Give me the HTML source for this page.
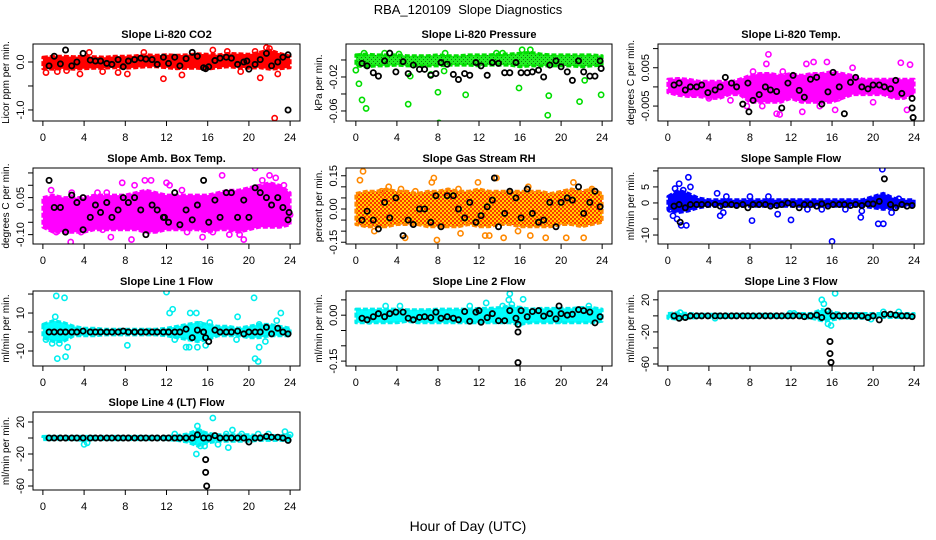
<!DOCTYPE html>
<html><head><meta charset="utf-8">
<style>
html,body{margin:0;padding:0;background:#fff;}
svg{display:block;font-family:"Liberation Sans",Arial,sans-serif;}
</style></head>
<body>
<svg id="chart" width="936" height="540" viewBox="0 0 936 540">
<defs>
<pattern id="pat-rh" width="4" height="4" patternUnits="userSpaceOnUse"><rect width="4" height="4" fill="#ffd000"/><rect x="0" y="0" width="2" height="2" fill="#ff3300"/><rect x="2" y="2" width="2" height="2" fill="#ff3300"/></pattern>
<pattern id="pat-pres" width="4" height="4" patternUnits="userSpaceOnUse"><rect width="4" height="4" fill="#22ee22"/><rect x="1" y="1" width="1" height="1" fill="#117711"/><rect x="3" y="3" width="1" height="1" fill="#117711"/></pattern>
</defs>
<text x="468" y="14" text-anchor="middle" font-size="13">RBA_120109&#160; Slope Diagnostics</text>
<text x="468" y="531" text-anchor="middle" font-size="14">Hour of Day (UTC)</text>
</svg>
<script>
// ---- data ----
const hours = [0,1,2,3,4,5,6,7,8,9,10,11,12,13,14,15,16,17,18,19,20,21,22,23,24];
const xTicks = [0,4,8,12,16,20,24];
const blackHours = [0.6,1.1,1.7,2.2,2.8,3.3,3.9,4.6,5.1,5.6,6.2,6.7,7.3,7.8,8.3,8.9,9.5,10.0,10.6,11.1,11.7,12.2,12.8,13.3,13.9,14.5,15.0,15.6,16.1,16.7,17.2,17.8,18.3,18.9,19.5,20.0,20.6,21.1,21.7,22.2,22.8,23.3,23.8];

const co2Lo = [-0.14,-0.15,-0.14,-0.15,-0.14,-0.13,-0.13,-0.12,-0.13,-0.12,-0.1,-0.1,-0.12,-0.14,-0.13,-0.13,-0.15,-0.12,-0.1,-0.12,-0.13,-0.12,-0.15,-0.14,-0.12];
const co2Hi = [0.1,0.12,0.12,0.11,0.12,0.11,0.1,0.12,0.12,0.13,0.15,0.14,0.15,0.14,0.15,0.17,0.16,0.15,0.18,0.17,0.16,0.2,0.25,0.18,0.12];
const co2OutX = [0.3,1.4,2.3,3.6,4.5,5.8,7.3,8.2,9.8,11.7,13.5,16.5,17.9,19.2,21.1,21.7,22.0,22.5,22.8,20.6];
const co2OutY = [-0.22,-0.2,-0.18,-0.25,0.2,-0.2,-0.22,-0.25,0.2,-0.35,-0.27,0.25,0.22,-0.2,-0.33,0.3,0.28,-1.17,-0.25,0.22];
const co2Black = [-0.08,0.12,-0.04,0.25,-0.08,0.0,0.18,0.04,0.02,0.02,-0.03,-0.05,0.05,-0.1,0.02,0.05,0.08,0.06,0.05,-0.05,0.1,-0.03,0.1,-0.08,0.07,0.2,0.12,-0.12,-0.1,0.03,0.08,0.1,0.08,-0.05,0.0,-0.15,-0.05,0.05,0.18,-0.08,0.0,0.1,0.15];
const co2ExtraX = [23.8,15.8,19.8];
const co2ExtraY = [-1.0,-0.14,0.02];

const presLo = [-0.007,-0.008,-0.007,-0.007,-0.006,-0.007,-0.007,-0.007,-0.007,-0.006,-0.006,-0.006,-0.007,-0.006,-0.006,-0.006,-0.008,-0.007,-0.007,-0.007,-0.007,-0.007,-0.008,-0.007,-0.006];
const presHi = [0.006,0.007,0.006,0.006,0.006,0.005,0.005,0.005,0.006,0.005,0.005,0.006,0.006,0.006,0.007,0.007,0.008,0.009,0.007,0.006,0.006,0.006,0.006,0.006,0.005];
const presOutX = [0.0,0.3,0.6,1.0,5.1,5.3,7.3,8.0,8.1,8.6,10.7,15.9,18.7,18.8,21.8,22.3,23.9,16.2,17.0,0.8,2.8,4.2,8.7,13.7,14.3];
const presOutY = [-0.012,-0.028,-0.047,-0.057,-0.052,-0.019,-0.017,-0.038,-0.074,-0.013,-0.041,-0.033,-0.065,-0.042,-0.049,-0.024,-0.041,0.012,0.012,0.008,0.008,0.007,0.008,0.008,0.008];
const presBlack = [-0.004,-0.007,-0.015,-0.019,-0.001,0.008,-0.014,-0.002,-0.016,-0.006,-0.011,-0.011,-0.018,-0.016,-0.003,-0.005,-0.017,-0.023,-0.016,-0.018,-0.003,-0.007,-0.018,-0.003,-0.004,-0.015,-0.015,-0.003,-0.015,-0.015,-0.014,-0.012,-0.02,-0.006,-0.001,-0.008,-0.014,-0.024,-0.001,-0.014,-0.019,-0.019,-0.001];
const presExtraX = [23.9];
const presExtraY = [-0.01];

const tempLo = [-0.0015,-0.0022,-0.0025,-0.0025,-0.003,-0.003,-0.002,-0.002,-0.004,-0.004,-0.004,-0.004,-0.003,-0.004,-0.004,-0.004,-0.004,-0.003,-0.002,-0.002,-0.002,-0.002,-0.003,-0.003,-0.002];
const tempHi = [0.002,0.0022,0.002,0.0015,0.0015,0.0015,0.0012,0.002,0.003,0.0035,0.0035,0.003,0.0035,0.003,0.0035,0.0035,0.004,0.0035,0.003,0.002,0.002,0.002,0.002,0.002,0.002];
const tempOutX = [7.7,8.3,9.8,9.6,10.6,11.2,12.1,13.1,13.5,14.2,14.8,15.5,16.3,16.6,18.0,20.0,22.7,23.3,23.6,10.9,2.5,4.0,6.1,9.2];
const tempOutY = [-0.005,0.004,0.0085,0.006,-0.007,0.004,-0.002,-0.0065,0.006,0.0065,-0.005,0.0065,-0.006,-0.003,0.005,-0.004,0.0063,-0.006,0.0058,-0.0072,-0.002,-0.003,-0.0035,-0.005];
const tempBlack = [0.0005,0.001,-0.0008,0,0,0.0005,-0.0015,-0.0008,0,0.0025,0.001,0,-0.0045,0.001,-0.0035,-0.002,0,-0.0008,-0.0012,-0.0055,0.001,0.003,-0.0009,-0.0027,0.002,0.0025,-0.0045,-0.0013,0.0038,0,-0.007,0.0012,0.0025,0,-0.0005,0.0005,0.0005,0,-0.0005,0.0017,-0.0017,0.013,-0.003];
const tempExtraX = [23.8,23.9,7.9];
const tempExtraY = [-0.0055,-0.008,-0.0065];

const ambLo = [-0.07,-0.09,-0.09,-0.09,-0.09,-0.08,-0.08,-0.08,-0.08,-0.08,-0.09,-0.09,-0.08,-0.08,-0.08,-0.08,-0.09,-0.08,-0.08,-0.09,-0.08,-0.07,-0.07,-0.07,-0.06];
const ambHi = [0.05,0.06,0.05,0.05,0.05,0.06,0.06,0.06,0.06,0.07,0.08,0.07,0.06,0.06,0.06,0.06,0.06,0.07,0.08,0.08,0.09,0.1,0.11,0.1,0.07];
const ambOutX = [0.3,0.8,1.3,2.7,2.8,3.7,5.3,5.8,6.2,6.6,7.7,8.6,8.9,9.9,10.5,11.0,12.0,13.5,15.5,16.5,17.4,18.1,19.1,19.5,20.6,21.3,22.0,22.6,23.4,24.0,12.3,14.0];
const ambOutY = [0.03,0.08,-0.09,-0.13,0.07,-0.09,0.07,-0.08,0.07,-0.11,0.11,-0.12,0.1,0.12,0.12,-0.08,0.11,0.08,-0.11,-0.09,0.14,-0.1,-0.1,-0.12,0.17,0.12,0.14,0.13,0.1,-0.02,0.1,-0.09];
const ambBlack = [0.12,0.01,0.01,-0.09,0.06,0.03,0.05,-0.03,0.02,-0.01,0.03,-0.03,0,0.05,0.03,0.05,0,-0.1,0.02,0,-0.03,-0.05,0.07,-0.06,0,-0.04,0.02,0.12,-0.05,0.04,-0.03,0.07,0.07,-0.03,0.04,-0.03,0.09,0.07,0.05,0.02,0.05,0.01,-0.04];
const ambExtraX = [3.9,23.9,11.8];
const ambExtraY = [-0.08,-0.01,-0.03];

const rhLo = [-0.07,-0.08,-0.08,-0.08,-0.07,-0.07,-0.07,-0.08,-0.08,-0.08,-0.08,-0.07,-0.08,-0.08,-0.07,-0.07,-0.08,-0.08,-0.08,-0.08,-0.07,-0.07,-0.08,-0.07,-0.06];
const rhHi = [0.07,0.08,0.08,0.09,0.08,0.08,0.07,0.08,0.08,0.09,0.08,0.08,0.09,0.08,0.08,0.08,0.08,0.08,0.08,0.07,0.08,0.09,0.08,0.09,0.07];
const rhOutX = [0.4,0.7,1.8,2.5,3.2,4.4,4.8,5.8,7.4,7.9,10.0,10.2,11.9,12.6,13.0,14.4,15.8,16.8,17.0,18.5,20.5,21.2,22.2,23.0,13.7,7.6];
const rhOutY = [0.13,0.17,-0.1,0.08,0.1,0.09,-0.13,0.08,0.12,-0.14,0.09,-0.11,0.12,-0.12,-0.12,-0.13,-0.1,0.1,-0.12,-0.13,-0.13,0.12,-0.13,0.09,0.14,0.14];
const rhBlack = [-0.05,-0.01,-0.05,-0.09,0.03,-0.04,0.05,-0.12,-0.05,-0.07,0,0.0,-0.06,0.06,-0.08,0.06,0.06,0.0,-0.04,0.03,-0.06,-0.03,0.01,0.04,-0.08,-0.02,0.08,0.05,-0.04,0.09,-0.02,-0.06,-0.05,0.03,-0.08,0.03,0.05,0.04,0.1,-0.02,0.03,0.08,0.01];
const rhExtraX = [13.5];
const rhExtraY = [0.14];

const sampLo = [-2,-3,-2.5,-1.5,-1,-1,-1,-1,-1,-1,-1,-1,-1,-1,-1,-1,-1,-1,-1,-1,-1.5,-2,-1.5,-1,-1];
const sampHi = [2,4,3,1.5,1,1,1,1,1,1,1,1,1,1,1,1,1,1,1,1,2,3,1.5,1,1];
const sampOutX = [0.2,0.5,0.7,0.9,1.1,1.3,1.5,1.8,2.0,2.2,4.8,5.1,5.4,5.7,8.0,8.2,10.7,12.0,13.6,16.0,17.3,18.8,18.9,20.5,21.0,20.9,21.8,22.5,15.0,9.8];
const sampOutY = [-2,-4,4.5,-5,6,-7,4,-7,8,5,3,-4,-3,2,2,-5.5,-3.5,-5.3,-2,-12,-2,-4.5,-2.5,-6.5,-6.5,10.5,-3,1.3,-2,2];
const sampBlack = [-1,-0.5,-1.5,-0.5,-0.5,-0.5,-0.5,-0.5,-1,-0.5,-0.5,-0.8,-0.5,-1.5,-0.5,-0.5,-0.5,-1,-0.8,-0.5,0,-0.5,-1.5,-0.5,-0.5,-1,-0.3,-1,-0.5,-0.5,-0.5,-0.8,-0.5,-0.8,-0.3,-0.3,0.5,7.5,-0.5,-1.5,-0.5,-1,-0.8];
const sampExtraX = [1.2];
const sampExtraY = [-6];

const l1Lo = [-3,-5,-5,-2,-2,-2,-1.5,-1.5,-1.5,-1.5,-1.5,-1.5,-2,-3,-4,-5,-4,-2,-2,-2,-3,-3,-2,-2,-2];
const l1Hi = [4,6,5,3,2,2,1.5,1.5,1.5,1.5,1.5,1.5,2,3,4,5,4,3,3,2,3,4,4,3,2];
const l1OutX = [0.3,0.9,1.2,1.3,1.4,1.6,2.1,2.2,2.4,8.2,12.0,12.3,12.6,12.8,13.9,14.2,14.3,14.9,15.0,15.3,16.2,18.9,18.8,20.5,20.6,20.9,21.0,21.0,21.6,22.7,23.1,15.8];
const l1OutY = [-4,-6,8,19,-14,-6,18,-13,-8,-7,21,10,12,-4,-8,-8,10,10,-8,4,5,8,-4,18,-14,-15.5,-8,4,-5,6,10,-7];
const l1Black = [0,0,0,0,0,0,0.5,0,0,0,0,0,0,0.5,0,0,0,0,0,0,0,0,0,0,1.5,-3,1,0,-5,1,0,0,0,0.5,-1,0,0,0,2.5,-1,2,0,-1];
const l1ExtraX = [15.8];
const l1ExtraY = [-3];

const l2Lo = [-0.025,-0.025,-0.025,-0.025,-0.025,-0.02,-0.025,-0.025,-0.025,-0.025,-0.025,-0.025,-0.025,-0.025,-0.025,-0.025,-0.03,-0.025,-0.025,-0.025,-0.025,-0.025,-0.025,-0.025,-0.02];
const l2Hi = [0.02,0.02,0.02,0.02,0.02,0.018,0.018,0.018,0.02,0.02,0.02,0.02,0.022,0.022,0.025,0.03,0.025,0.02,0.022,0.022,0.022,0.022,0.025,0.025,0.02];
const l2OutX = [2.9,4.3,11.1,12.7,14.3,14.9,15.0,15.2,16.3,16.0,15.9,22.7,19.8,1.3];
const l2OutY = [0.03,0.03,0.03,0.04,0.03,0.05,0.07,0.035,0.052,0.02,-0.03,0.03,-0.018,-0.02];
const l2Black = [-0.01,-0.015,-0.005,0.005,-0.005,0.005,0.01,0.01,-0.01,-0.015,-0.007,-0.005,-0.008,0.01,-0.01,-0.005,-0.01,-0.015,0.012,-0.02,0.01,-0.023,-0.008,0.005,-0.018,-0.018,0.015,-0.01,0.015,-0.005,0.012,0.015,-0.003,0.005,-0.012,0.005,0.0,0.003,0.018,0.015,0.01,-0.025,-0.005];
const l2ExtraX = [15.8,15.8,15.8,12.0,19.8];
const l2ExtraY = [-0.03,-0.055,-0.155,0.015,0.03];

const l3Lo = [-3,-4,-3,-2,-2,-2,-2,-2,-2,-2,-2,-2,-2,-2,-3,-6,-5,-3,-3,-3,-2,-2,-2,-2,-2];
const l3Hi = [3,4,3,2,2,2,2,2,2,2,2,2,3,3,3,8,5,3,3,3,3,3,3,3,3];
const l3OutX = [1.2,11.9,15.0,15.2,15.6,15.9,16.3,21.0,22.5,12.3,19.8,4.6];
const l3OutY = [4,3,20,15,-10,-12,28,5,5,3,-4,-3];
const l3Black = [0,-3,-2,0,0,0,0,0,0,0,0,0,0,0,0,0,0,0,0,0,0,0,0,-1,0,1,-2,6,0,0,0,0,0,0,-2,0,-5,2,2,1,0,0,-1];
const l3ExtraX = [15.8,15.8,15.9];
const l3ExtraY = [-32,-47,-58];

const l4Lo = [-2,-2,-2,-2,-3,-2,-2,-2,-2,-2,-2,-2,-2,-3,-5,-10,-6,-4,-4,-4,-4,-3,-3,-3,-3];
const l4Hi = [2,2,2,2,2,2,2,2,2,2,2,2,2,3,5,10,6,4,4,4,4,3,3,3,3];
const l4OutX = [4.0,4.3,12.8,14.9,15.0,15.2,15.3,15.7,16.5,17.0,17.8,18.0,18.4,19.3,20.9,21.9,23.5,24.0,14.6,16.0];
const l4OutY = [-8,-6,5,-20,15,8,-10,-10,25,-8,5,-12,10,5,5,5,8,4,-5,-2];
const l4Black = [0,0,0,0,0,0,0,0,0,0,0,0,0,0,0,0,0,0,0,0,0,0,0,0,0,0,4,0,0,3,0,0,0,0,0,-5,0,0,2,1,1,0,-3];
const l4ExtraX = [15.8,15.8,15.9];
const l4ExtraY = [-27,-43,-60];

// ---- tick definitions ----
const co2Ticks = [-1.0,-0.5,0.0]; const co2Labels = ["-1.0","","0.0"];
const presTicks = [-0.06,-0.04,-0.02,0.0]; const presLabels = ["-0.06","","-0.02",""];
const tempTicks = [-0.005,0,0.005,0.01]; const tempLabels = ["-0.005","","0.005",""];
const ambTicks = [-0.10,-0.05,0,0.05,0.10,0.15]; const ambLabels = ["-0.10","","","0.05","",""];
const rhTicks = [-0.15,-0.10,-0.05,0,0.05,0.10,0.15]; const rhLabels = ["-0.15","","","0.00","","","0.15"];
const sampTicks = [-10,-5,0,5,10]; const sampLabels = ["-10","","0","5",""];
const l1Ticks = [-10,0,10,20]; const l1Labels = ["-10","","10",""];
const l2Ticks = [-0.15,-0.10,-0.05,0,0.05]; const l2Labels = ["-0.15","","","0.00",""];
const l3Ticks = [-60,-40,-20,0,20]; const l3Labels = ["-60","","-20","","20"];
const l4Ticks = [-60,-40,-20,0,20]; const l4Labels = ["-60","","-20","","20"];

// ---- layout ----
const NS = "http://www.w3.org/2000/svg";
const svg = document.getElementById("chart");
const cols = [[33,300],[346,612],[658,924]];
const rows = [[44,121],[168,244],[291,366],[412,490]];

function mk(tag, attrs, parent){
  const e = document.createElementNS(NS, tag);
  for (const k in attrs) e.setAttribute(k, attrs[k]);
  (parent||svg).appendChild(e);
  return e;
}

const panels = [
 {key:"co2", title:"Slope Li-820 CO2", ylab:"Licor ppm per min.", c:0,r:0, dom:[-1.23,0.375], col:"#ff0000", band:"#ff0000", lo:co2Lo,hi:co2Hi,ox:co2OutX,oy:co2OutY,bk:co2Black,ex:co2ExtraX,ey:co2ExtraY,t:co2Ticks,tl:co2Labels},
 {key:"pressure", title:"Slope Li-820 Pressure", ylab:"kPa per min.", c:1,r:0, dom:[-0.0718,0.0188], col:"#00dd00", band:"url(#pat-pres)", lo:presLo,hi:presHi,ox:presOutX,oy:presOutY,bk:presBlack,ex:presExtraX,ey:presExtraY,t:presTicks,tl:presLabels},
 {key:"li820-temp", title:"Slope Li-820 Temp.", ylab:"degrees C per min.", c:2,r:0, dom:[-0.0089,0.0112], col:"#ff00ff", band:"#ff00ff", lo:tempLo,hi:tempHi,ox:tempOutX,oy:tempOutY,bk:tempBlack,ex:tempExtraX,ey:tempExtraY,t:tempTicks,tl:tempLabels},
 {key:"amb-box-temp", title:"Slope Amb. Box Temp.", ylab:"degrees C per min.", c:0,r:1, dom:[-0.138,0.170], col:"#ff00ff", band:"#ff00ff", lo:ambLo,hi:ambHi,ox:ambOutX,oy:ambOutY,bk:ambBlack,ex:ambExtraX,ey:ambExtraY,t:ambTicks,tl:ambLabels},
 {key:"gas-stream-rh", title:"Slope Gas Stream RH", ylab:"percent per min.", c:1,r:1, dom:[-0.158,0.185], col:"#ff8800", band:"url(#pat-rh)", lo:rhLo,hi:rhHi,ox:rhOutX,oy:rhOutY,bk:rhBlack,ex:rhExtraX,ey:rhExtraY,t:rhTicks,tl:rhLabels},
 {key:"sample-flow", title:"Slope Sample Flow", ylab:"ml/min per min.", c:2,r:1, dom:[-12.8,10.9], col:"#0000ff", band:"#0000ff", lo:sampLo,hi:sampHi,ox:sampOutX,oy:sampOutY,bk:sampBlack,ex:sampExtraX,ey:sampExtraY,t:sampTicks,tl:sampLabels},
 {key:"line1-flow", title:"Slope Line 1 Flow", ylab:"ml/min per min.", c:0,r:2, dom:[-17.9,21.6], col:"#00eeee", band:"#00ffff", lo:l1Lo,hi:l1Hi,ox:l1OutX,oy:l1OutY,bk:l1Black,ex:l1ExtraX,ey:l1ExtraY,t:l1Ticks,tl:l1Labels},
 {key:"line2-flow", title:"Slope Line 2 Flow", ylab:"ml/min per min.", c:1,r:2, dom:[-0.166,0.079], col:"#00eeee", band:"#00ffff", lo:l2Lo,hi:l2Hi,ox:l2OutX,oy:l2OutY,bk:l2Black,ex:l2ExtraX,ey:l2ExtraY,t:l2Ticks,tl:l2Labels},
 {key:"line3-flow", title:"Slope Line 3 Flow", ylab:"ml/min per min.", c:2,r:2, dom:[-62.5,31], col:"#00eeee", band:"#00ffff", lo:l3Lo,hi:l3Hi,ox:l3OutX,oy:l3OutY,bk:l3Black,ex:l3ExtraX,ey:l3ExtraY,t:l3Ticks,tl:l3Labels},
 {key:"line4-flow", title:"Slope Line 4 (LT) Flow", ylab:"ml/min per min.", c:0,r:3, dom:[-65,32.5], col:"#00eeee", band:"#00ffff", lo:l4Lo,hi:l4Hi,ox:l4OutX,oy:l4OutY,bk:l4Black,ex:l4ExtraX,ey:l4ExtraY,t:l4Ticks,tl:l4Labels}
];

panels.forEach(p=>{
  const [L,R] = cols[p.c], [T,B] = rows[p.r];
  const xs = h => L + (h + 0.96) / 25.92 * (R - L);
  const ys = v => B - (v - p.dom[0]) / (p.dom[1] - p.dom[0]) * (B - T);
  const g = mk("g", {});
  
  
  const clipId = "clip-" + p.key;
  const cp = mk("clipPath", {id: clipId}, g);
  mk("rect", {x:L, y:T, width:R-L, height:B-T}, cp);

  const title = mk("text", {x:(L+R)/2, y:T-6, "text-anchor":"middle", "font-size":"11", "font-weight":"bold"}, g);
  title.textContent = p.title;
  
  

  const plot = mk("g", {"clip-path":"url(#"+clipId+")"}, g);
  let d = "";
  hours.forEach((h,i)=>{ d += (i?"L":"M") + xs(h).toFixed(1) + "," + ys(p.hi[i]).toFixed(1); });
  for (let i = hours.length-1; i >= 0; i--) d += "L" + xs(hours[i]).toFixed(1) + "," + ys(p.lo[i]).toFixed(1);
  const band = mk("path", {d: d + "Z", fill: p.band, stroke: p.col, "stroke-width": 3, "stroke-dasharray":"5 2", "stroke-linejoin":"round"}, plot);
  
  
  p.ox.forEach((h,i)=>{
    const c = mk("circle", {cx: xs(h), cy: ys(p.oy[i]), r: 2.6, fill:"none", stroke: p.col, "stroke-width": 1.6}, plot);
    
    
  });
  p.bk.forEach((v,i)=>{
    if (i >= blackHours.length) return;
    const c = mk("circle", {cx: xs(blackHours[i]), cy: ys(v), r: 2.6, fill:"none", stroke:"#000", "stroke-width": 1.8}, plot);
    
    
  });
  p.ex.forEach((h,i)=>{
    const c = mk("circle", {cx: xs(h), cy: ys(p.ey[i]), r: 2.6, fill:"none", stroke:"#000", "stroke-width": 1.8}, plot);
    
    
  });

  const box = mk("rect", {x:L, y:T, width:R-L, height:B-T, fill:"none", stroke:"#000", "stroke-width":1}, g);
  
  

  const xa = mk("g", {}, g);
  
  
  mk("line", {x1: xs(xTicks[0]), x2: xs(xTicks[xTicks.length-1]), y1: B, y2: B, stroke:"#000"}, xa);
  xTicks.forEach(t=>{
    mk("line", {x1: xs(t), x2: xs(t), y1: B, y2: B+5, stroke:"#000"}, xa);
    const tx = mk("text", {x: xs(t), y: B+20, "text-anchor":"middle", "font-size":"11"}, xa);
    tx.textContent = t;
  });
  const ya = mk("g", {}, g);
  
  
  const tin = p.t.filter(v => v >= p.dom[0] && v <= p.dom[1]);
  mk("line", {x1: L, x2: L, y1: ys(tin[0]), y2: ys(tin[tin.length-1]), stroke:"#000"}, ya);
  p.t.forEach((v,i)=>{
    if (v < p.dom[0] || v > p.dom[1]) return;
    mk("line", {x1: L-5, x2: L, y1: ys(v), y2: ys(v), stroke:"#000"}, ya);
    if (p.tl[i]) {
      const tx = mk("text", {x: L-9, y: ys(v), "text-anchor":"middle", "font-size":"11", transform:"rotate(-90 "+(L-9)+" "+ys(v)+")"}, ya);
      tx.textContent = p.tl[i];
    }
  });
  const yl = mk("text", {x: L-24, y:(T+B)/2, "text-anchor":"middle", "font-size":"10", transform:"rotate(-90 "+(L-24)+" "+((T+B)/2)+")"}, g);
  yl.textContent = p.ylab;
  
  
});
</script>
</body></html>
